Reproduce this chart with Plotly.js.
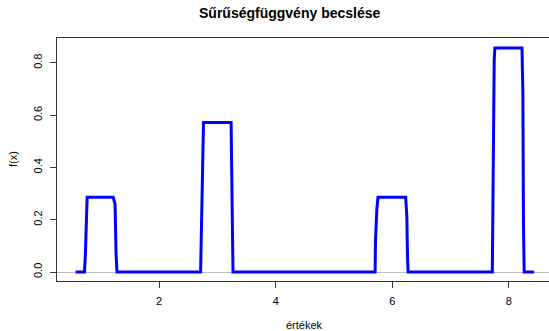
<!DOCTYPE html>
<html>
<head>
<meta charset="utf-8">
<script src="https://cdn.plot.ly/plotly-3.0.1.min.js"></script>
<style>html,body{margin:0;padding:0;background:#fff;}#chart{width:549px;height:331px;}</style>
</head>
<body>
<div id="chart"></div>
<script>
// Density estimate outline (x values and f(x) values)
const peak1X = [0.567, 0.720, 0.735, 0.750, 0.766, 1.213, 1.245, 1.262, 1.278];
const peak1Y = [0, 0, 0.06, 0.17, 0.2857, 0.2857, 0.26, 0.07, 0];
const peak3X = [2.712, 2.728, 2.745, 2.762, 3.235, 3.242, 3.252, 3.268];
const peak3Y = [0, 0.17, 0.43, 0.5714, 0.5714, 0.455, 0.21, 0];
const peak6X = [5.705, 5.712, 5.735, 5.755, 6.230, 6.250, 6.262, 6.272];
const peak6Y = [0, 0.12, 0.24, 0.2857, 0.2857, 0.21, 0.05, 0];
const peak8X = [7.716, 7.722, 7.735, 7.748, 7.760, 8.225, 8.232, 8.240, 8.250, 8.262, 8.433];
const peak8Y = [0, 0.237, 0.524, 0.81, 0.857, 0.857, 0.77, 0.69, 0.19, 0, 0];

const xTicks = [2, 4, 6, 8];
const yTicks = [0, 0.2, 0.4, 0.6, 0.8];
const yTickText = ["0.0", "0.2", "0.4", "0.6", "0.8"];

const xs = [].concat(peak1X, peak3X, peak6X, peak8X);
const ys = [].concat(peak1Y, peak3Y, peak6Y, peak8Y);

const font = {family: "Liberation Sans, Arial, sans-serif", size: 11, color: "#000"};

const trace = {
  x: xs, y: ys, type: "scatter", mode: "lines",
  line: {color: "#0000ff", width: 3, shape: "linear"},
  hoverinfo: "skip"
};

const layout = {
  width: 549, height: 331,
  margin: {l: 57, r: 0, t: 38, b: 50, pad: 0},
  paper_bgcolor: "#fff", plot_bgcolor: "#fff",
  showlegend: false,
  font: font,
  xaxis: {
    range: [0.249, 8.688], tickvals: xTicks, ticktext: xTicks.map(String),
    showgrid: false, zeroline: false,
    showline: true, mirror: true, linecolor: "#333", linewidth: 1,
    ticks: "outside", ticklen: 6, tickcolor: "#333", tickwidth: 1,
    tickfont: font, ticklabelstandoff: 4
  },
  yaxis: {
    range: [-0.0344, 0.8948], tickvals: yTicks, ticktext: yTickText,
    showgrid: false, zeroline: true, zerolinecolor: "#bebebe", zerolinewidth: 1,
    showline: true, mirror: false, linecolor: "#333", linewidth: 1,
    ticks: "outside", ticklen: 6, tickcolor: "#333", tickwidth: 1,
    tickangle: -90, tickfont: font, ticklabelstandoff: 4
  },
  annotations: [
    {text: "<b>Sűrűségfüggvény becslése</b>", xref: "paper", yref: "paper",
     x: 0.4736, y: 1.1029, xanchor: "center", yanchor: "middle", showarrow: false,
     font: {family: "Liberation Sans, Arial, sans-serif", size: 14, color: "#000"}},
    {text: "értékek", xref: "paper", yref: "paper",
     x: 0.503, y: -0.181, xanchor: "center", yanchor: "middle", showarrow: false, font: font},
    {text: "f(x)", xref: "paper", yref: "paper",
     x: -0.0894, y: 0.502, xanchor: "center", yanchor: "middle", textangle: -90, showarrow: false, font: font}
  ]
};

Plotly.newPlot("chart", [trace], layout, {displayModeBar: false, staticPlot: true});
</script>
</body>
</html>
